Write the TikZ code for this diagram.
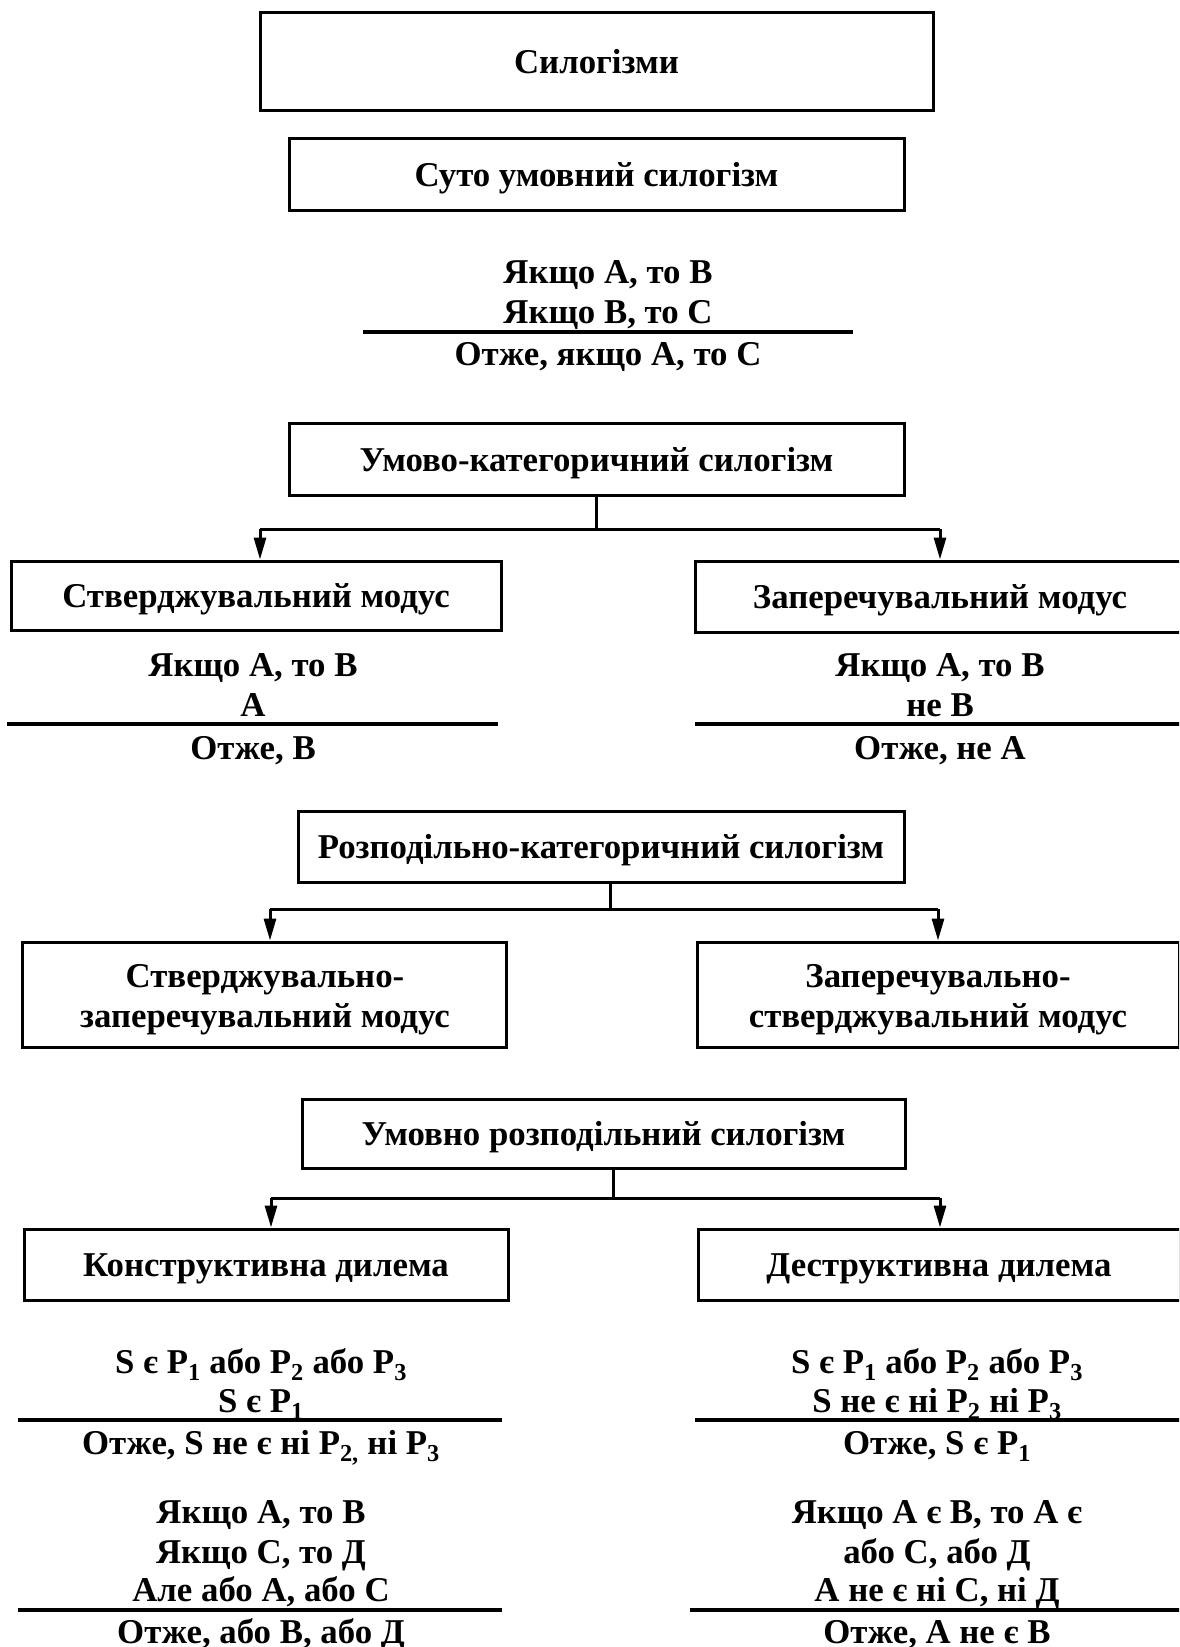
\documentclass[tikz,border=0pt]{standalone}
\usepackage{fontspec}
\setmainfont{Liberation Serif}
\usetikzlibrary{arrows.meta}
\begin{document}
\begin{tikzpicture}[x=1pt,y=-1pt,
  every node/.style={font=\fontsize{34.8}{40}\selectfont\bfseries},
  box/.style={draw, line width=3pt, inner sep=0pt, text height=24pt, text depth=0pt},
  ebox/.style={draw, line width=3pt, inner sep=0pt},
  txt/.style={inner sep=0pt, anchor=base},
  rulel/.style={line width=3.5pt},
  conn/.style={line width=3pt},
  arr/.style={line width=3pt, -{Triangle[length=22pt,width=12pt]}}]
\useasboundingbox (0,0) rectangle (1179,1647);
\clip (0,0) rectangle (1179,1647);

% top
\node[box, minimum width=673, minimum height=98] (s0) at (596.5,61) {Силогізми};
\node[box, minimum width=615, minimum height=72] (s1) at (596.5,174) {Суто умовний силогізм};
\node[txt] (t11) at (608,283) {Якщо А, то В};
\node[txt] (t12) at (608,323) {Якщо В, то С};
\coordinate (r1a) at (363,332); \coordinate (r1b) at (853,332);
\draw[rulel] (r1a) -- (r1b);
\node[txt] (t13) at (608,365) {Отже, якщо А, то С};

% conditional-categorical
\node[box, minimum width=615, minimum height=72] (s3) at (596.5,459) {Умово-категоричний силогізм};
\node[box, minimum width=490, minimum height=69] (m1) at (256,595.5) {Стверджувальний модус};
\node[box, minimum width=490, minimum height=71] (m2) at (940,596.5) {Заперечувальний модус};
\coordinate (j1) at (596.5,529);
\coordinate (h1l) at (260,529); \coordinate (h1r) at (940,529);
\draw[conn] (s3.south) -- (j1);
\draw[conn] (h1l) -- (h1r);
\draw[arr] (h1l) -- (h1l |- m1.north);
\draw[arr] (h1r) -- (h1r |- m2.north);

\node[txt] (a1) at (253,676) {Якщо А, то В};
\node[txt] (a2) at (253,716) {А};
\coordinate (r2a) at (7,724); \coordinate (r2b) at (498,724);
\draw[rulel] (r2a) -- (r2b);
\node[txt] (a3) at (253,759) {Отже, В};

\node[txt] (b1) at (940,676) {Якщо А, то В};
\node[txt] (b2) at (940,716) {не В};
\coordinate (r3a) at (695,724); \coordinate (r3b) at (1185,724);
\draw[rulel] (r3a) -- (r3b);
\node[txt] (b3) at (940,759) {Отже, не А};

% disjunctive-categorical
\node[box, minimum width=606, minimum height=71] (s5) at (601,846.5) {Розподільно-категоричний силогізм};
\node[ebox, minimum width=484, minimum height=105] (d1) at (264,994.5) {};
\node[ebox, minimum width=482, minimum height=105] (d2) at (938,994.5) {};
\node[txt] (d1a) at (265,987) {Стверджувально-};
\node[txt] (d1b) at (265,1027) {заперечувальний модус};
\node[txt] (d2a) at (938,987) {Заперечувально-};
\node[txt] (d2b) at (938,1027) {стверджувальний модус};
\coordinate (j2t) at (610,882); \coordinate (j2) at (610,909);
\coordinate (h2l) at (270,909); \coordinate (h2r) at (938,909);
\draw[conn] (j2t) -- (j2);
\draw[conn] (h2l) -- (h2r);
\draw[arr] (h2l) -- (h2l |- d1.north);
\draw[arr] (h2r) -- (h2r |- d2.north);

% conditional-disjunctive
\node[box, minimum width=603, minimum height=69] (s7) at (603.5,1133.5) {Умовно розподільний силогізм};
\node[box, minimum width=484, minimum height=71] (k1) at (266,1264.5) {Конструктивна дилема};
\node[box, minimum width=482, minimum height=71] (k2) at (939,1264.5) {Деструктивна дилема};
\coordinate (j3t) at (613,1168); \coordinate (j3) at (613,1198);
\coordinate (h3l) at (271,1198); \coordinate (h3r) at (940,1198);
\draw[conn] (j3t) -- (j3);
\draw[conn] (h3l) -- (h3r);
\draw[arr] (h3l) -- (h3l |- k1.north);
\draw[arr] (h3r) -- (h3r |- k2.north);

% left bottom
\node[txt] (c1) at (261,1373) {S є P\textsubscript{1} або P\textsubscript{2} або P\textsubscript{3}};
\node[txt] (c2) at (261,1412) {S є P\textsubscript{1}};
\coordinate (r4a) at (18,1420); \coordinate (r4b) at (502,1420);
\draw[rulel] (r4a) -- (r4b);
\node[txt] (c3) at (261,1454) {Отже, S не є ні P\textsubscript{2,} ні P\textsubscript{3}};
\node[txt] (c4) at (261,1523) {Якщо А, то В};
\node[txt] (c5) at (261,1563) {Якщо С, то Д};
\node[txt] (c6) at (261,1601) {Але або А, або С};
\coordinate (r5a) at (18,1610); \coordinate (r5b) at (502,1610);
\draw[rulel] (r5a) -- (r5b);
\node[txt] (c7) at (261,1643) {Отже, або В, або Д};

% right bottom
\node[txt] (e1) at (937,1373) {S є P\textsubscript{1} або P\textsubscript{2} або P\textsubscript{3}};
\node[txt] (e2) at (937,1412) {S не є ні P\textsubscript{2} ні P\textsubscript{3}};
\coordinate (r6a) at (695,1420); \coordinate (r6b) at (1185,1420);
\draw[rulel] (r6a) -- (r6b);
\node[txt] (e3) at (937,1454) {Отже, S є P\textsubscript{1}};
\node[txt] (e4) at (937,1523) {Якщо А є В, то А є};
\node[txt] (e5) at (937,1563) {або С, або Д};
\node[txt] (e6) at (937,1601) {А не є ні С, ні Д};
\coordinate (r7a) at (690,1610); \coordinate (r7b) at (1185,1610);
\draw[rulel] (r7a) -- (r7b);
\node[txt] (e7) at (937,1643) {Отже, А не є В};
\end{tikzpicture}
\end{document}
